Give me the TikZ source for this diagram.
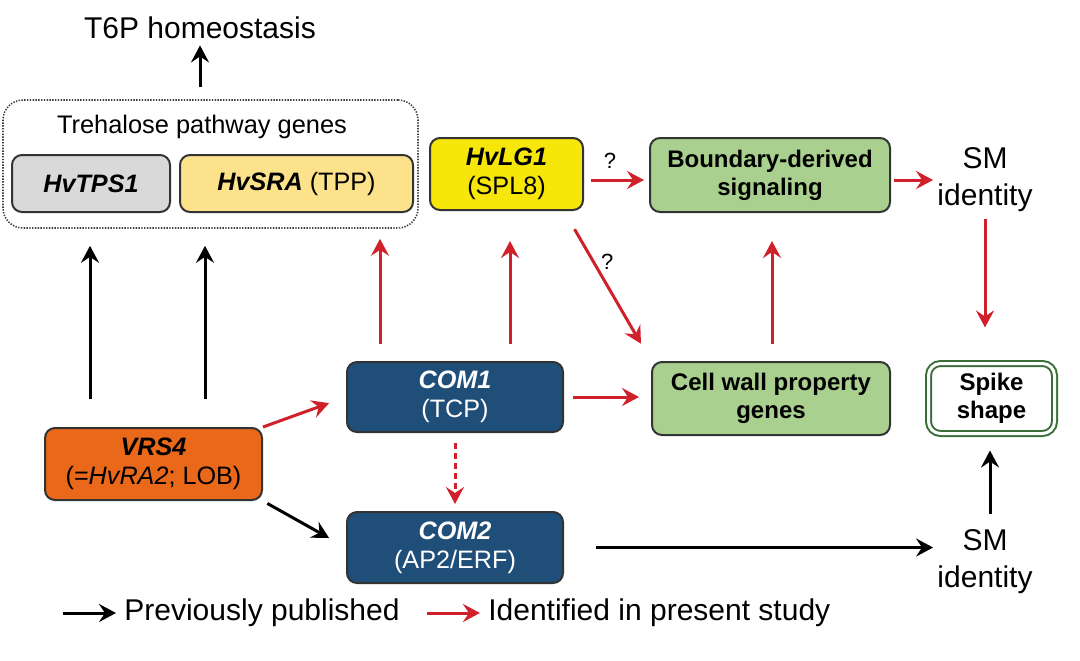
\documentclass[tikz,border=0pt]{standalone}
\usepackage{fontspec}
\setmainfont{Liberation Sans}
\usepackage{tikz}
\usepackage{xcolor}
\usetikzlibrary{positioning}
\usetikzlibrary{arrows.meta}
\usetikzlibrary{calc}
\definecolor{redarr}{HTML}{D0202A}
\definecolor{tpsgray}{HTML}{D9D9D9}
\definecolor{srayel}{HTML}{FDE28C}
\definecolor{lgyel}{HTML}{F6E60A}
\definecolor{leafgr}{HTML}{A9D08E}
\definecolor{comblue}{HTML}{1F4E79}
\definecolor{vrsorg}{HTML}{E9681A}
\definecolor{spkgr}{HTML}{3B6E37}
\definecolor{edge}{HTML}{333333}
\newcommand{\genefont}{\fontsize{12.6}{14.5}\selectfont}
\newcommand{\traitfont}{\fontsize{12}{14}\selectfont\bfseries}
\newcommand{\bigfont}{\fontsize{15}{18.5}\selectfont}
\tikzset{
  % A gene box: coloured, rounded, one or two lines
  gene/.style={
    draw=edge, line width=1pt, rounded corners=5pt, align=center,
    font=\genefont, inner sep=2pt, minimum width=#1, minimum height=28.5pt},
  % A green box for downstream processes
  trait/.style={
    draw=edge, line width=1pt, fill=leafgr, rounded corners=5pt,
    align=center, font=\traitfont, inner sep=2pt, minimum width=#1,
    minimum height=36.5pt},
  % The final phenotype
  spike/.style={
    draw=spkgr, line width=1pt, double=white, double distance=1.5pt,
    rounded corners=6pt, align=center, font=\traitfont,
    minimum width=63pt, minimum height=35pt},
  % The dotted frame round the trehalose genes
  group/.style={
    draw=black!75, line width=0.8pt, dash pattern=on 0.7pt off 0.7pt,
    rounded corners=10pt, minimum width=207.5pt, minimum height=64pt},
  % Free text
  plain/.style={font=\bigfont, align=center, inner sep=2pt},
  qmark/.style={font=\fontsize{11}{13}\selectfont, inner sep=1pt},
  % Relationships
  known/.style={-{Stealth[length=8.5pt, width=9pt, inset=3pt]},
    draw=black, line width=1.5pt},
  found/.style={known, draw=redarr},
}
\begin{document}
\begin{tikzpicture}[x=0.5pt, y=-0.5pt]
  \useasboundingbox (0,0) rectangle (1080,660);

  % trehalose module
  \node[group] (tre) at (210.5,164) {};
  \node[plain, font=\fontsize{12.7}{15}\selectfont] (tretitle) at (202,127) {Trehalose pathway genes};
  \node[gene=79pt, fill=tpsgray] (tps) at (91,183.5) {\textbf{\textit{HvTPS1}}};
  \node[gene=116.5pt, fill=srayel] (sra) at (296.5,183.5) {\textbf{\textit{HvSRA}} (TPP)};
  \node[plain] (t6p) at (200,28) {T6P homeostasis};

  % upper row
  \node[gene=76.5pt, minimum height=36pt, fill=lgyel] (lg1) at (506.5,174) {\textbf{\textit{HvLG1}}\\(SPL8)};
  \node[trait=120pt, minimum height=37pt] (bds) at (770,175) {Boundary-derived\\signaling};
  \node[plain] (smtop) at (985,180) {SM\\identity};

  % middle row
  \node[gene=108pt, minimum height=35pt, fill=comblue, text=white] (com1) at (455,397) {\textbf{\textit{COM1}}\\(TCP)};
  \node[trait=119pt] (cwall) at (771,398.5) {Cell wall property\\genes};
  \node[spike] (spike) at (991.5,398.5) {Spike\\shape};
  \node[gene=108.5pt, minimum height=36pt, fill=vrsorg] (vrs4) at (153.5,464) {\textbf{\textit{VRS4}}\\(=\textit{HvRA2}; LOB)};

  % lower row
  \node[gene=108pt, minimum height=35.5pt, fill=comblue, text=white] (com2) at (455,547.5) {\textbf{\textit{COM2}}\\(AP2/ERF)};
  \node[plain] (smbot) at (985,562) {SM\\identity};

  % legend
  \node[plain, anchor=west] (lgold) at (120,613) {Previously published};
  \node[plain, right=40pt of lgold] (lgnew) {Identified in present study};

  % previously published
  \draw[known, shorten <=6pt, shorten >=1pt] (tre.north -| t6p.south) -- (t6p.south);
  \draw[known, shorten <=14pt, shorten >=8.5pt] ([xshift=-31.75pt]vrs4.north) -- ([xshift=-31.75pt]vrs4.north |- tre.south);
  \draw[known, shorten <=14pt, shorten >=8.5pt] ([xshift=25.75pt]vrs4.north) -- ([xshift=25.75pt]vrs4.north |- tre.south);
  \draw[known, shorten <=2.5pt, shorten >=9.7pt] (vrs4.south east) -- (com2.west);
  \draw[known, shorten <=16pt] (com2.east) -- (com2.east -| smbot.west);
  \draw[known, shorten <=6pt, shorten >=8pt] ([xshift=2.5pt]smbot.north) -- ([xshift=2.5pt]smbot.north |- spike.south);

  % identified here
  \draw[found, shorten >=9pt] (vrs4.north east) -- (com1.west);
  \draw[found, dash pattern=on 3pt off 2pt, shorten <=5pt, shorten >=3.5pt] (com1.south) -- (com2.north);
  \draw[found, shorten <=8.5pt, shorten >=5pt] ([xshift=-37.5pt]com1.north) -- ([xshift=-37.5pt]com1.north |- tre.south);
  \draw[found, shorten <=8.5pt, shorten >=15pt] ([xshift=27.5pt]com1.north) -- ([xshift=27.5pt]com1.north |- lg1.south);
  \draw[found, shorten <=4.5pt, shorten >=6pt] (com1.east) -- (com1.east -| cwall.west);
  \draw[found, shorten <=8.5pt, shorten >=14pt] ([xshift=0.5pt]cwall.north) -- ([xshift=0.5pt]cwall.north |- bds.south);
  \draw[found, shorten <=10.5pt, shorten >=10pt] ([xshift=-10pt]lg1.south east) -- (cwall.north west)
    node[qmark, pos=0.34, right=2pt] {?};
  \draw[found, shorten <=3.5pt, shorten >=2.5pt] ([yshift=-3pt]lg1.east) -- ([yshift=-3pt]lg1.east -| bds.west)
    node[qmark, pos=0.4, above=4pt] {?};
  \draw[found, shorten <=1.5pt] (smtop.west -| bds.east) -- (smtop.west);
  \draw[found, shorten <=1.5pt, shorten >=17.5pt] (smtop.south) -- (smtop.south |- spike.north);

  \draw[known, shorten >=2pt] ([xshift=-28.5pt]lgold.west) -- (lgold.west);
  \draw[found, shorten >=2pt] ([xshift=-28.5pt]lgnew.west) -- (lgnew.west);

\end{tikzpicture}
\end{document}
